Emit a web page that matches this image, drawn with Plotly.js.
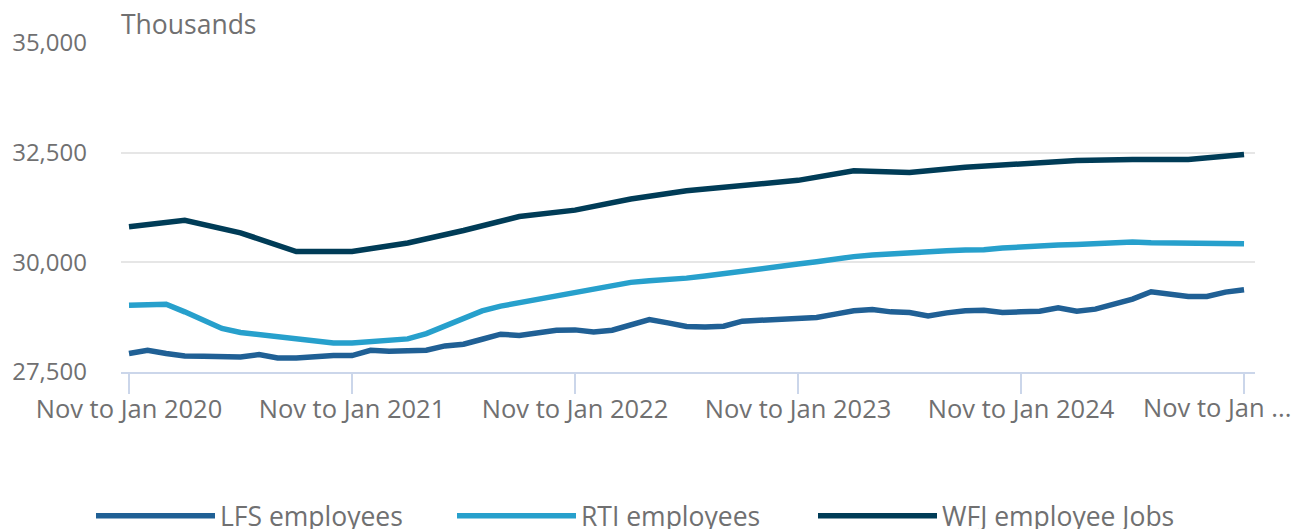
<!DOCTYPE html>
<html>
<head>
<meta charset="utf-8">
<script src="https://cdn.plot.ly/plotly-3.0.1.min.js"></script>
<style>
html, body { margin: 0; padding: 0; background: #ffffff; }
#chart { width: 1298px; height: 529px; }
</style>
</head>
<body>
<div id="chart"></div>
<script>
// Rolling three-month periods, "Nov to Jan 2020" ... "Nov to Jan 2025"
var monthNames = ["Jan","Feb","Mar","Apr","May","Jun","Jul","Aug","Sep","Oct","Nov","Dec"];
var categories = [];
for (var i = 0; i < 61; i++) {
  var endMonth = i % 12;
  var endYear = 2020 + Math.floor(i / 12);
  var startMonth = (endMonth + 10) % 12;
  categories.push(monthNames[startMonth] + " to " + monthNames[endMonth] + " " + endYear);
}

var tickCategories = ["Nov to Jan 2020", "Nov to Jan 2021", "Nov to Jan 2022", "Nov to Jan 2023", "Nov to Jan 2024", "Nov to Jan 2025"];
var tickLabels = ["Nov to Jan 2020", "Nov to Jan 2021", "Nov to Jan 2022", "Nov to Jan 2023", "Nov to Jan 2024", ""];
var lastTickLabel = "Nov to Jan ...";

// LFS employees (thousands), monthly
var lfsEmployees = [
  27920, 27996, 27920, 27866, 27859, 27859, 27843, 27898, 27820, 27820,
  27852, 27875, 27875, 27996, 27973, 27980, 27996, 28094, 28133, 28247,
  28362, 28332, 28391, 28453, 28460, 28414, 28453, 28567, 28697, 28620,
  28536, 28528, 28544, 28658, 28674, 28697, 28697, 28743, 28819, 28894,
  28926, 28871, 28857, 28780, 28848, 28898, 28910, 28857, 28871, 28887,
  28963, 28887, 28933, 29040, 29161, 29328, 29276, 29223, 29223, 29321,
  29374
];

// RTI employees (thousands), monthly
var rtiEmployees = [
  29024, 29040, 29047, 28871, 28681, 28492, 28400, 28355, 28300, 28240,
  28195, 28163, 28163, 28186, 28208, 28255, 28377, 28551, 28734, 28894,
  29001, 29077, 29155, 29214, 29292, 29383, 29465, 29543, 29580, 29596,
  29640, 29687, 29748, 29808, 29863, 29916, 29961, 30014, 30077, 30130,
  30169, 30199, 30216, 30239, 30262, 30280, 30285, 30325, 30355, 30378,
  30394, 30408, 30431, 30448, 30464, 30448, 30441, 30441, 30441, 30431,
  30424
];

// WFJ employee jobs (thousands), quarterly
var wfjCategories = [];
for (var q = 0; q < 61; q += 3) { wfjCategories.push(categories[q]); }
var wfjEmployeeJobs = [
  30812, 30958, 30673, 30246, 30246, 30441, 30726, 31044, 31190, 31445,
  31630, 31753, 31869, 32087, 32048, 32170, 32233, 32319, 32342, 32342,
  32460
];

var yTicks = [27500, 30000, 32500, 35000];

var colors = { lfs: "#206095", rti: "#27a0cc", wfj: "#003c57" };
var fontFamily = "'Open Sans', 'Noto Sans', sans-serif";
var textColor = "#707071";

var traces = [
  { type: "scatter", mode: "lines", name: "LFS employees", x: categories, y: lfsEmployees,
    line: { color: colors.lfs, width: 5.5, shape: "linear" }, hoverinfo: "skip" },
  { type: "scatter", mode: "lines", name: "RTI employees", x: categories, y: rtiEmployees,
    line: { color: colors.rti, width: 5.5, shape: "linear" }, hoverinfo: "skip" },
  { type: "scatter", mode: "lines", name: "WFJ employee Jobs", x: wfjCategories, y: wfjEmployeeJobs,
    line: { color: colors.wfj, width: 5.5, shape: "linear" }, hoverinfo: "skip" }
];

var plotLeft = 121, plotRight = 1298 - 43;

var layout = {
  width: 1298,
  height: 529,
  margin: { l: plotLeft, r: 43, t: 43, b: 157, pad: 0 },
  paper_bgcolor: "#ffffff",
  plot_bgcolor: "#ffffff",
  font: { family: fontFamily, size: 24, color: textColor },
  title: {
    text: "Thousands",
    x: plotLeft / 1298, xref: "container", xanchor: "left",
    y: 1 - 25 / 529, yref: "container", yanchor: "middle",
    font: { family: fontFamily, size: 26.5, color: textColor }
  },
  showlegend: true,
  legend: {
    orientation: "h",
    x: 91 / 1298, xref: "container", xanchor: "left",
    y: (529 - 516) / 529, yref: "container", yanchor: "middle",
    itemwidth: 119,
    entrywidth: 227,
    entrywidthmode: "pixels",
    font: { family: fontFamily, size: 26.5, color: textColor },
    bgcolor: "rgba(0,0,0,0)",
    traceorder: "normal"
  },
  annotations: [
    { text: lastTickLabel, xref: "paper", yref: "paper",
      x: (1293 - plotLeft) / (plotRight - plotLeft),
      xanchor: "right", y: 0, yanchor: "middle", yshift: -35, showarrow: false,
      font: { family: fontFamily, size: 25.5, color: textColor } }
  ],
  xaxis: {
    type: "category",
    categoryorder: "array",
    categoryarray: categories,
    range: [-0.43, 60.59],
    tickmode: "array",
    tickvals: tickCategories,
    ticktext: tickLabels,
    showgrid: false,
    zeroline: false,
    showline: true,
    linecolor: "#cbd6ea",
    linewidth: 2,
    ticks: "outside",
    ticklen: 20,
    tickwidth: 2,
    tickcolor: "#cbd6ea",
    ticklabelstandoff: -7,
    tickfont: { family: fontFamily, size: 25.5, color: textColor },
    fixedrange: true
  },
  yaxis: {
    range: [27500, 35000],
    tickmode: "array",
    tickvals: yTicks,
    tickformat: ",",
    showgrid: true,
    gridcolor: "#e6e6e6",
    gridwidth: 2,
    zeroline: false,
    showline: false,
    ticks: "",
    ticklabelstandoff: 33,
    tickfont: { family: fontFamily, size: 24, color: textColor },
    fixedrange: true
  }
};

Plotly.newPlot("chart", traces, layout, { displayModeBar: false, staticPlot: true });
</script>
</body>
</html>
